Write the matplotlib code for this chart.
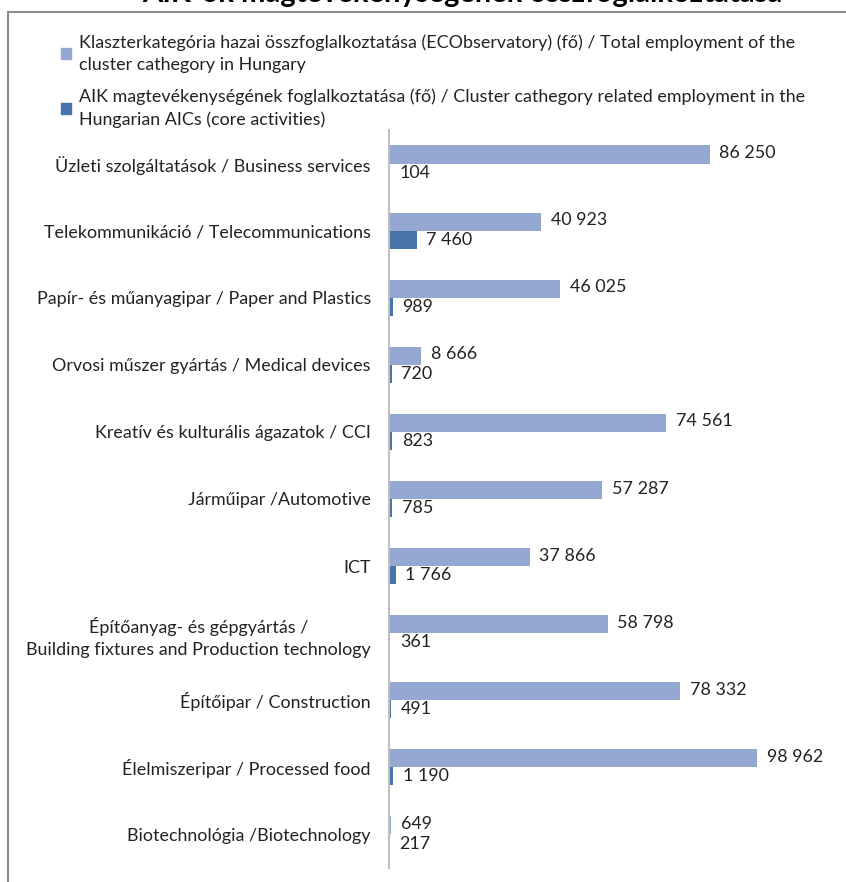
import matplotlib.pyplot as plt
import numpy as np
from matplotlib.patches import Rectangle, Patch

# -----------------------------
# Data
# -----------------------------
categories = [
    "Üzleti szolgáltatások / Business services",
    "Telekommunikáció / Telecommunications",
    "Papír- és műanyagipar / Paper and Plastics",
    "Orvosi műszer gyártás / Medical devices",
    "Kreatív és kulturális ágazatok / CCI",
    "Járműipar /Automotive",
    "ICT",
    "Építőanyag- és gépgyártás /\nBuilding fixtures and Production technology",
    "Építőipar / Construction",
    "Élelmiszeripar / Processed food",
    "Biotechnológia /Biotechnology",
]
total_employment = [86250, 40923, 46025, 8666, 74561, 57287, 37866, 58798, 78332, 98962, 649]
aik_employment = [104, 7460, 989, 720, 823, 785, 1766, 361, 491, 1190, 217]

legend_labels = [
    "Klaszterkategória hazai összfoglalkoztatása (ECObservatory) (fő) / Total employment of the\ncluster cathegory in Hungary",
    "AIK magtevékenységének foglalkoztatása (fő) / Cluster cathegory related employment in the\nHungarian AICs (core activities)",
]
title = "AIK-ok magtevékenységének összfoglalkoztatása"

light = "#95A8D1"
dark = "#4673AA"
fs = 12.9

plt.rcParams['font.family'] = ['Lato', 'DejaVu Sans']

fig = plt.figure(figsize=(8.46, 8.82), dpi=100)
ax = fig.add_axes([389 / 846, 14 / 882, 420 / 846, 738 / 882])

y = np.arange(len(categories))
h = 0.27
ax.barh(y - h / 2, total_employment, height=h, color=light)
ax.barh(y + h / 2, aik_employment, height=h, color=dark)


def fmt(v):
    return f"{v:,}".replace(",", " ")


for yi, v in zip(y, total_employment):
    ax.annotate(fmt(v), (v, yi - h / 2), xytext=(7, 1), textcoords="offset points",
                va="center", ha="left", fontsize=fs, color="#222222")
for yi, v in zip(y, aik_employment):
    ax.annotate(fmt(v), (v, yi + h / 2), xytext=(7, 0), textcoords="offset points",
                va="center", ha="left", fontsize=fs, color="#222222")

ax.set_ylim(len(categories) - 0.5, -0.5)
ax.set_xlim(0, 113000)
ax.set_yticks(y)
ax.set_yticklabels(categories, fontsize=fs, multialignment="center", color="#222222",
                   linespacing=1.45)
ax.tick_params(axis="y", length=0, pad=13)
ax.set_xticks([])
for s in ["top", "right", "bottom"]:
    ax.spines[s].set_visible(False)
ax.spines["left"].set_color("#BFBFBF")
ax.spines["left"].set_linewidth(1.5)

# legend
handles = [Patch(color=light), Patch(color=dark)]
leg = fig.legend(handles, legend_labels, loc="upper left", bbox_to_anchor=(45 / 846, 1 - 18 / 882),
                 frameon=False, fontsize=fs, handlelength=0.55, handleheight=0.55,
                 handletextpad=0.45, labelspacing=0.9, labelcolor="#222222")
for t in leg.get_texts():
    t.set_linespacing(1.45)

# outer frame and cut-off title
fig.patches.append(Rectangle((8 / 846, -0.1), 1.0, 1 - 12 / 882 + 0.1, transform=fig.transFigure,
                             fill=False, edgecolor="#8C8C8C", linewidth=1.5))
fig.text(0.546, 1 - 2 / 882, title, ha="center", va="baseline", fontsize=21, fontweight="bold")

fig.savefig("out.png", dpi=100)
